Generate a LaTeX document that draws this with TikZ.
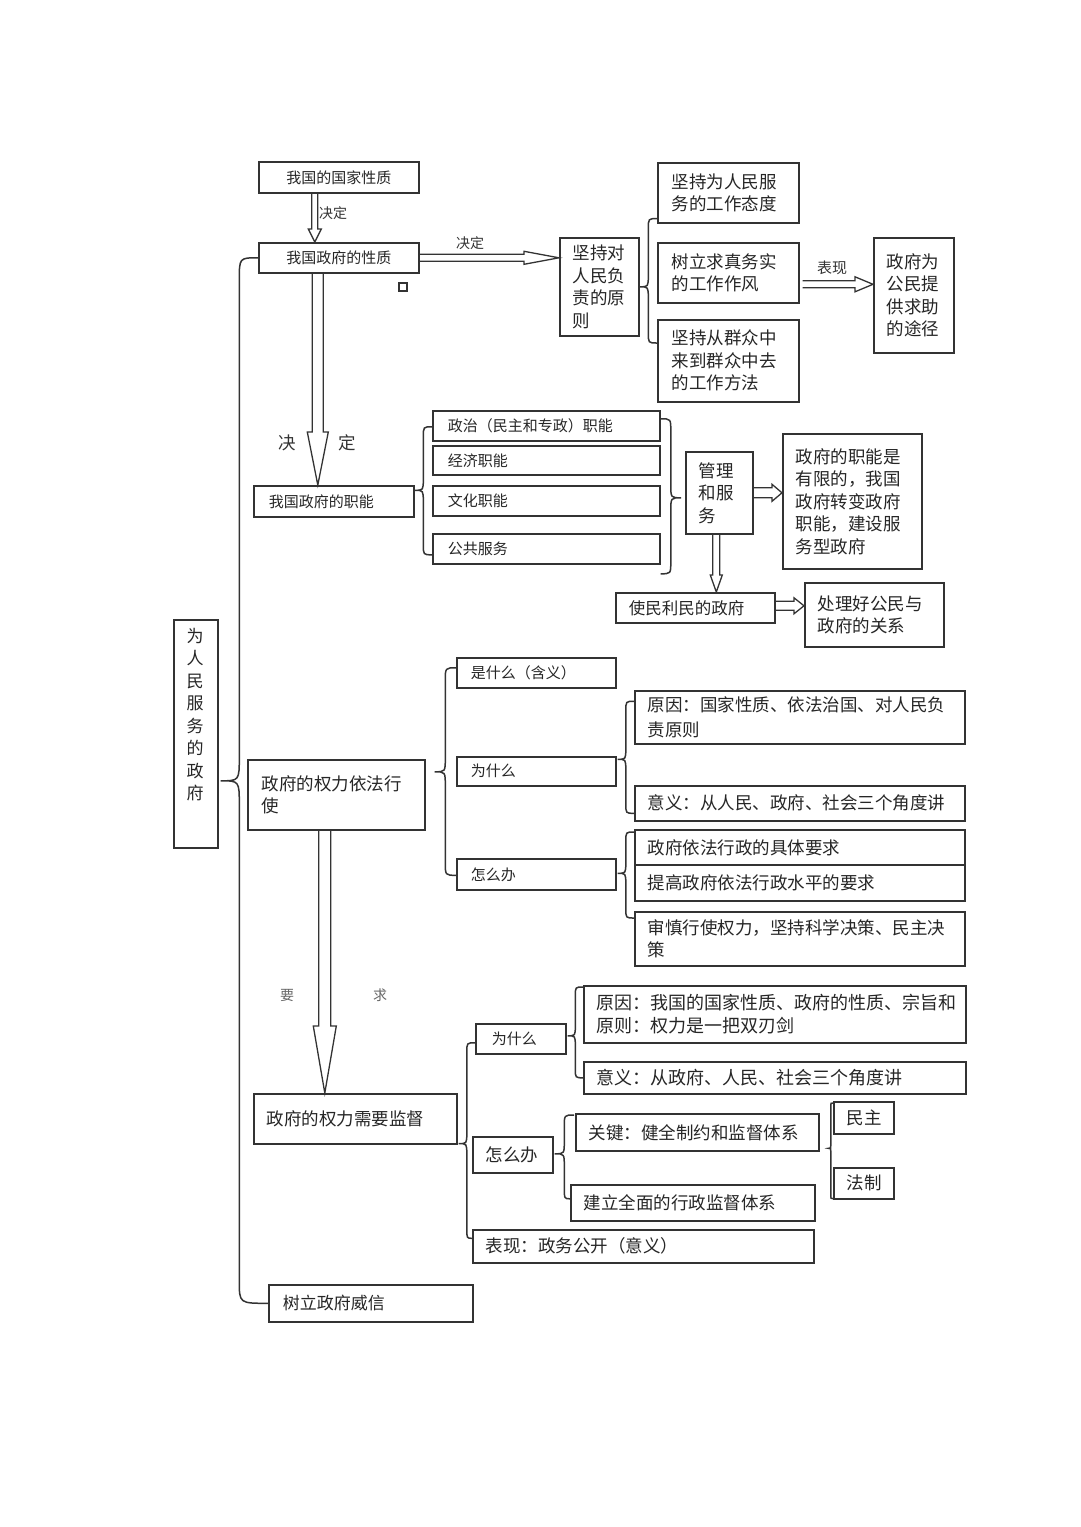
\documentclass[tikz,border=0pt]{standalone}
\usepackage{fontspec}
\setmainfont{Noto Sans CJK SC}
\usetikzlibrary{calc}
\newcommand\fss{\fontsize{15}{18}\selectfont}
\newcommand\fsm{\fontsize{16.5}{20}\selectfont}
\newcommand\fsb{\fontsize{17.5}{22.5}\selectfont}
\newcommand\fsl{\fontsize{14}{16}\selectfont}
\tikzset{
  box/.style={draw=black!80, line width=1.6pt, rectangle, inner xsep=0pt, inner ysep=0pt,
    align=left, text=black!85, font=\fsb},
  hol/.style={draw=black!80, line width=1.3pt, line join=miter},
  brl/.style={draw=black!80, line width=1.5pt},
  lbl/.style={text=black!80, inner sep=1pt, font=\fsl},
}
% box: [options]{name}{left inset}{x1}{y1}{x2}{y2}{text}, pixel coordinates
\newcommand\bx[8][]{%
  \pgfmathsetmacro\bxw{#6-#4}\pgfmathsetmacro\bxh{#7-#5}\pgfmathsetmacro\bxt{#6-#4-2*#3}%
  \node[box,anchor=north west,minimum width=\bxw pt,minimum height=\bxh pt,text width=\bxt pt,#1] (#2) at (#4,#5) {#8};}
% hollow arrows: start, end, shaft half width, head half width, head length
\newcommand\hdown[5]{\draw[hol] let \p1=(#1),\p2=(#2) in
  (\x1-#3pt,\y1)--(\x1-#3pt,\y2+#5pt)--(\x1-#4pt,\y2+#5pt)--(\x1,\y2)--(\x1+#4pt,\y2+#5pt)--(\x1+#3pt,\y2+#5pt)--(\x1+#3pt,\y1);}
\newcommand\hright[5]{\draw[hol] let \p1=(#1),\p2=(#2) in
  (\x1,\y1+#3pt)--(\x2-#5pt,\y1+#3pt)--(\x2-#5pt,\y1+#4pt)--(\x2,\y1)--(\x2-#5pt,\y1-#4pt)--(\x2-#5pt,\y1-#3pt)--(\x1,\y1-#3pt);}
% curly brace: tip, top end, bottom end
\newcommand\brc[3]{\draw[brl] let \p1=(#1),\p2=(#2),\p3=(#3),
  \n1={(\x1+\x2)/2}, \n2={1.2*abs(\x2-\n1*1pt)}, \n3={1.3*abs(\n1*1pt-\x1)} in
  (\p2) .. controls (\n1*1pt,\y2) .. (\n1*1pt,{\y2-\n2*1pt}) -- (\n1*1pt,{\y1+\n3*1pt})
  .. controls (\n1*1pt,\y1) .. (\p1) .. controls (\n1*1pt,\y1) .. (\n1*1pt,{\y1-\n3*1pt})
  -- (\n1*1pt,{\y3+\n2*1pt}) .. controls (\n1*1pt,\y3) .. (\p3);}

\begin{document}
\begin{tikzpicture}[x=1pt,y=-1pt]
\fill[white] (0,0) rectangle (1080,1527);
\useasboundingbox (0,0) rectangle (1080,1527);

% top part
\bx[font=\fss,align=center]{A}{13}{258}{161}{418}{192}{我国的国家性质}
\bx[font=\fss,align=center]{B}{13}{258}{242}{418}{272}{我国政府的性质}
\bx{C}{13}{559}{237}{638}{335}{坚持对\\人民负\\责的原\\则}
\bx{D1}{14}{657}{162}{798}{222}{坚持为人民服\\务的工作态度}
\bx{D2}{14}{657}{242}{798}{302}{树立求真务实\\的工作作风}
\bx{D3}{14}{657}{319}{798}{401}{坚持从群众中\\来到群众中去\\的工作方法}
\bx{E}{13}{873}{237}{953}{352}{政府为\\公民提\\供求助\\的途径}
\node[draw=black!80, line width=1.2pt, minimum size=8pt, inner sep=0pt] (sq) at (403,287) {};

% functions
\bx[font=\fss]{F}{15}{253}{485}{413}{516}{我国政府的职能}
\bx[font=\fss]{G1}{15}{432}{410}{659}{440}{政治（民主和专政）职能}
\bx[font=\fss]{G2}{15}{432}{445}{659}{474}{经济职能}
\bx[font=\fss]{G3}{15}{432}{485}{659}{515}{文化职能}
\bx[font=\fss]{G4}{15}{432}{533}{659}{563}{公共服务}
\bx{H}{13}{685}{451}{752}{533}{管理\\和服\\务}
\bx{I}{13}{782}{433}{921}{568}{政府的职能是\\有限的，我国\\政府转变政府\\职能，建设服\\务型政府}
\bx[font=\fsm]{J}{13}{615}{592}{774}{622}{使民利民的政府}
\bx{K}{13}{804}{582}{943}{646}{处理好公民与\\政府的关系}

% root
\node[draw=black!80, line width=1.6pt, anchor=north west, minimum width=44pt, minimum height=228pt, inner sep=0pt] (R) at (173,619) {};
\node[anchor=north, align=center, inner sep=0pt, text=black!85, font=\fontsize{17}{22.5}\selectfont] (Rt) at (195,628) {为\\人\\民\\服\\务\\的\\政\\府};

% power by law
\bx{L}{14}{247}{759}{424}{829}{政府的权力依法行\\使}
\bx[font=\fss]{M1}{14}{456}{657}{615}{687}{是什么（含义）}
\bx[font=\fss]{M2}{14}{456}{756}{615}{785}{为什么}
\bx[font=\fss]{M3}{14}{456}{858}{615}{889}{怎么办}
\bx[font=\fontsize{17.5}{25}\selectfont]{N1}{13}{634}{690}{964}{743}{原因：国家性质、依法治国、对人民负\\责原则}
\bx{N2}{13}{634}{785}{964}{820}{意义：从人民、政府、社会三个角度讲}
\bx{P1}{13}{634}{829}{964}{864}{政府依法行政的具体要求}
\bx{P2}{13}{634}{864}{964}{900}{提高政府依法行政水平的要求}
\bx{P3}{13}{634}{911}{964}{965}{审慎行使权力，坚持科学决策、民主决\\策}

% supervision
\bx{Q}{13}{253}{1093}{456}{1143}{政府的权力需要监督}
\bx[font=\fss]{S1}{16}{475}{1023}{565}{1053}{为什么}
\bx{S2}{13}{472}{1136}{552}{1172}{怎么办}
\bx{S3}{13}{472}{1229}{813}{1262}{表现：政务公开（意义）}
\bx[font=\fontsize{18}{23}\selectfont]{T1}{13}{583}{985}{965}{1042}{原因：我国的国家性质、政府的性质、宗旨和\\原则：权力是一把双刃剑}
\bx[font=\fontsize{18}{23}\selectfont]{T2}{13}{583}{1061}{965}{1093}{意义：从政府、人民、社会三个角度讲}
\bx{U1}{13}{575}{1113}{818}{1150}{关键：健全制约和监督体系}
\bx{U2}{13}{570}{1184}{814}{1220}{建立全面的行政监督体系}
\bx{V1}{13}{833}{1101}{893}{1133}{民主}
\bx{V2}{13}{833}{1167}{893}{1198}{法制}
\bx[font=\fontsize{17}{22}\selectfont]{W}{14}{268}{1284}{472}{1321}{树立政府威信}

% hollow arrows
\hdown{$(A.south)+(-24,0)$}{B.north}{3}{6.5}{13}
\hright{B.east}{C.west}{3.5}{6.5}{35}
\hdown{$(B.south)+(-21,0)$}{F.north}{5.5}{10.5}{53}
\hright{$(D2.east)+(3,11.5)$}{E.west}{3.5}{7.5}{18}
\hright{H.east}{I.west}{5}{8.5}{10}
\hdown{$(H.south)+(-3,0)$}{J.north}{3.5}{6}{17}
\hright{$(J.east)+(0,-2)$}{K.west}{4.5}{8}{10}
\hdown{$(L.south)+(-11.5,0)$}{Q.north}{6}{11.5}{67}

% labels
\node[lbl] (l1) at (333,213) {决定};
\node[lbl] (l2) at (470,243) {决定};
\node[lbl, font=\fss] (l3) at (832,268) {表现};
\node[lbl, font=\fsb] (l4) at (287,443) {决};
\node[lbl, font=\fsb] (l5) at (347,443) {定};
\node[lbl, text=black!60] (l6) at (287,995) {要};
\node[lbl, text=black!60] (l7) at (380,995) {求};

% braces
\brc{$(R.east)+(2,47)$}{B.west}{W.west}
\brc{C.east}{$(D1.south west)+(0,-5)$}{$(D3.north west)+(0,24)$}
\brc{$(F.east)+(0,-11)$}{$(G1.west)+(0,1)$}{$(G4.west)+(0,6)$}
\brc{$(H.west)+(-4,5)$}{$(G1.east)+(0,-7)$}{$(G4.east)+(0,25)$}
\brc{$(L.east)+(9,-23)$}{$(M1.west)+(0,-5)$}{$(M3.west)+(0,1)$}
\brc{$(M2.east)+(1,-12)$}{$(N1.west)+(0,-16)$}{$(N2.west)+(0,10)$}
\brc{$(M3.east)+(1,-1)$}{$(P1.north west)+(0,3)$}{$(P3.north west)+(0,7)$}
\brc{$(Q.south east)+(1,-1)$}{$(S1.west)+(0,4)$}{$(S3.west)+(0,-8)$}
\brc{$(S1.east)+(1,-3)$}{$(T1.north west)+(0,2)$}{T2.west}
\brc{$(S2.east)+(1,-1)$}{$(U1.north west)+(-1,2)$}{$(U2.west)+(0,-4)$}
\brc{$(U1.east)+(9,16)$}{$(V1.north west)+(0,2)$}{$(V2.south west)+(0,-1)$}
\end{tikzpicture}
\end{document}
